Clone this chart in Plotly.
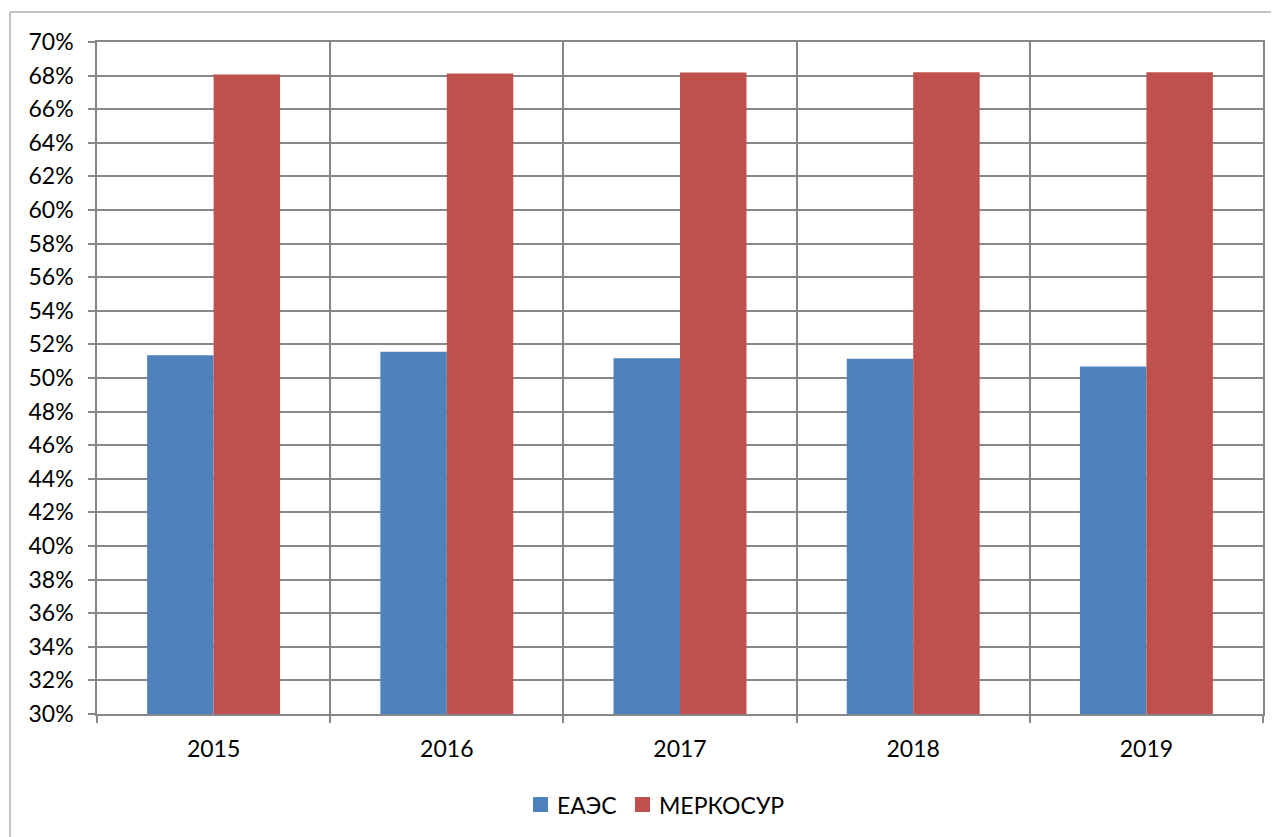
import plotly.graph_objects as go

years = ["2015", "2016", "2017", "2018", "2019"]
eaes = [0.5136, 0.5156, 0.5118, 0.5115, 0.5069]
mercosur = [0.6806, 0.6812, 0.6818, 0.6820, 0.6820]
tick_vals = [0.30 + 0.02 * i for i in range(21)]
series_names = ["ЕАЭС", "МЕРКОСУР"]
series_colors = ["#4F81BD", "#C0504D"]

GRID = "#878787"
FONT = "Lato, Calibri, Carlito, sans-serif"

# plot area in screen pixels (page has an 8px body margin)
PX0, PX1, PY0, PY1 = 97, 1263, 42, 714
PW, PH = PX1 - PX0, PY1 - PY0


def px(x):
    return (x - PX0) / PW


def py(y):
    return (PY1 - y) / PH


fig = go.Figure()
for name, vals, col in zip(series_names, [eaes, mercosur], series_colors):
    fig.add_trace(go.Bar(name=name, x=years, y=vals, showlegend=False,
                         marker=dict(color=col, line=dict(width=0))))

# manual legend (squares + labels)
legend_sq = [(533, 548), (635, 650)]
legend_tx = [555, 657]
shapes = [dict(type="rect", xref="paper", yref="paper",
               x0=px(10), x1=1.2, y0=-0.4, y1=py(12),
               line=dict(color="#8a8a8a", width=1), fillcolor="rgba(0,0,0,0)", layer="below")]
annotations = []
for (a, b), tx, name, col in zip(legend_sq, legend_tx, series_names, series_colors):
    shapes.append(dict(type="rect", xref="paper", yref="paper",
                       x0=px(a), x1=px(b), y0=py(812), y1=py(797),
                       line=dict(width=0), fillcolor=col))
    annotations.append(dict(xref="paper", yref="paper", x=px(tx), y=py(805),
                            xanchor="left", yanchor="middle", showarrow=False,
                            text=name, font=dict(size=23, family=FONT, color="black")))

fig.update_layout(
    width=1271, height=829,
    margin=dict(l=PX0 - 8, r=1271 - (PX1 - 8), t=PY0 - 8, b=829 - (PY1 - 8)),
    paper_bgcolor="white", plot_bgcolor="white",
    barmode="group", bargap=0.43, bargroupgap=0,
    font=dict(family=FONT, size=23, color="black"),
    showlegend=False,
    xaxis=dict(type="category", tickson="boundaries", range=[-0.5, 4.5],
               showgrid=True, gridcolor=GRID, gridwidth=1.5,
               showline=True, linecolor=GRID, linewidth=1.5, mirror=True,
               ticks="outside", ticklen=7, tickcolor=GRID, tickwidth=1.5,
               ticklabelstandoff=14),
    yaxis=dict(range=[0.30, 0.70], tickvals=tick_vals, tickformat=".0%",
               showgrid=True, gridcolor=GRID, gridwidth=1.5,
               showline=True, linecolor=GRID, linewidth=1.5, mirror=True,
               ticks="outside", ticklen=7, tickcolor=GRID, tickwidth=1.5,
               ticklabelstandoff=10, zeroline=False),
    shapes=shapes,
    annotations=annotations,
)

fig.write_html("out.html")
